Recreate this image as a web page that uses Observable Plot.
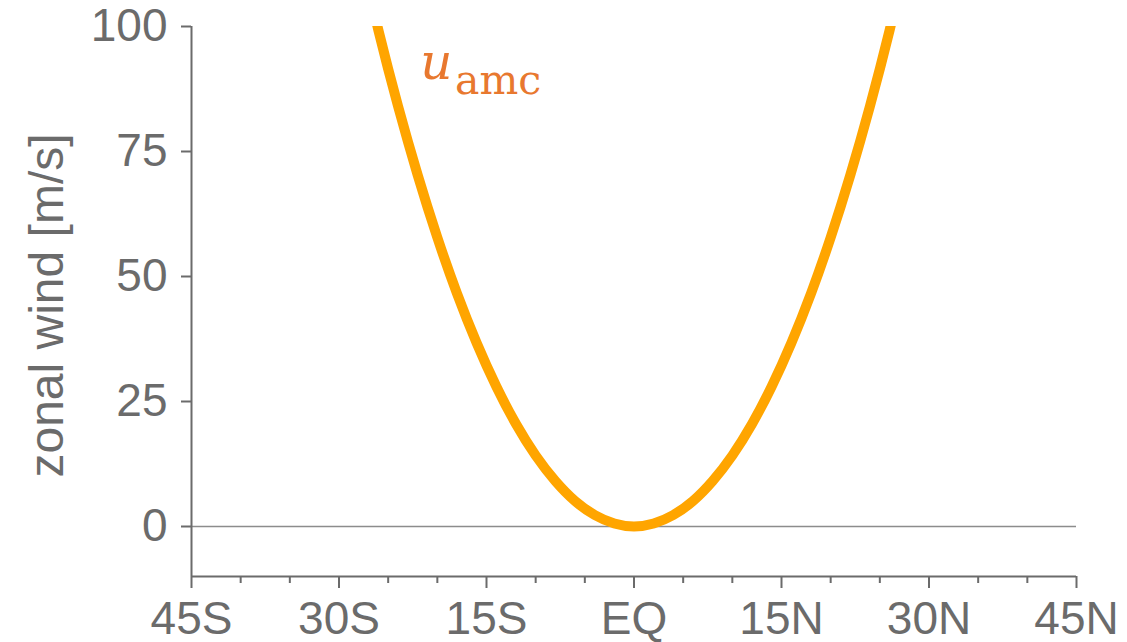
<!DOCTYPE html>
<html><head><meta charset="utf-8">
<script src="https://cdn.jsdelivr.net/npm/d3@7"></script>
<script src="https://cdn.jsdelivr.net/npm/@observablehq/plot@0.6"></script>
<style>body{margin:0;background:#fff}</style>
</head><body><div id="chart"></div>
<script>
// latitude (deg, negative = south) and angular-momentum-conserving zonal wind (m/s)
const latitudes = [-28,-26,-24,-22,-20,-18,-16,-14,-12,-10,-8,-6,-4,-2,0,2,4,6,8,10,12,14,16,18,20,22,24,26,28];
const zonalWind = [115.9,99.3,84.1,70.3,57.8,46.6,36.7,28.0,20.5,14.2,9.1,5.1,2.3,0.6,0,0.6,2.3,5.1,9.1,14.2,20.5,28.0,36.7,46.6,57.8,70.3,84.1,99.3,115.9];

const xTicks = [-45,-30,-15,0,15,30,45];
const xTickLabels = ["45S","30S","15S","EQ","15N","30N","45N"];
const xMinorTicks = [-40,-35,-25,-20,-10,-5,5,10,20,25,35,40];
const yTicks = [0,25,50,75,100];
const yLabel = "zonal wind [m/s]";
const seriesName = "u";
const seriesSub = "amc";
const labelLat = [-21.75, -18.2];
const labelWind = [89.6, 86.6];

const data = latitudes.map((lat, i) => ({lat, u: zonalWind[i]}));
const axisColor = "#6b6b6b";

const chart = Plot.plot({
  width: 1127, height: 642,
  marginLeft: 191, marginRight: 51, marginTop: 26, marginBottom: 66,
  style: {fontFamily: "'Liberation Sans', Arial, sans-serif", color: axisColor, background: "white", overflow: "visible"},
  x: {domain: [-45, 45], label: null},
  y: {domain: [-10, 100], label: null},
  marks: [
    Plot.ruleY([0], {stroke: "#8c8c8c", strokeWidth: 1.5}),
    Plot.line(data, {x: "lat", y: "u", stroke: "#FFA500", strokeWidth: 10, curve: "natural", clip: true}),
    Plot.ruleX([-45], {y1: -10, y2: 100, stroke: axisColor, strokeWidth: 2}),
    Plot.ruleY([-10], {x1: -45, x2: 45, stroke: axisColor, strokeWidth: 2}),
    Plot.axisY({ticks: yTicks, tickSize: 10, tickPadding: 14, fontSize: 46, label: null, stroke: axisColor, strokeWidth: 2}),
    Plot.axisX({ticks: xTicks, tickFormat: d => xTickLabels[xTicks.indexOf(d)], tickSize: 12, tickPadding: 13, fontSize: 46, label: null, stroke: axisColor, strokeWidth: 2}),
    Plot.axisX({ticks: xMinorTicks, tickFormat: () => "", tickSize: 7, label: null, stroke: axisColor, strokeWidth: 2}),
    Plot.text([yLabel], {frameAnchor: "left", rotate: -90, dx: -129, dy: 4, lineAnchor: "bottom", textAnchor: "middle", fontSize: 48, fill: axisColor}),
    Plot.text([seriesName], {x: () => labelLat[0], y: () => labelWind[0], textAnchor: "start", lineAnchor: "bottom", fontSize: 50, fontStyle: "italic", fontFamily: "'DejaVu Serif', serif", fill: "#E8782F"}),
    Plot.text([seriesSub], {x: () => labelLat[1], y: () => labelWind[1], textAnchor: "start", lineAnchor: "bottom", fontSize: 41, fontFamily: "'DejaVu Serif', serif", fill: "#E8782F"})
  ]
});
document.getElementById("chart").appendChild(chart);
</script>
</body></html>
